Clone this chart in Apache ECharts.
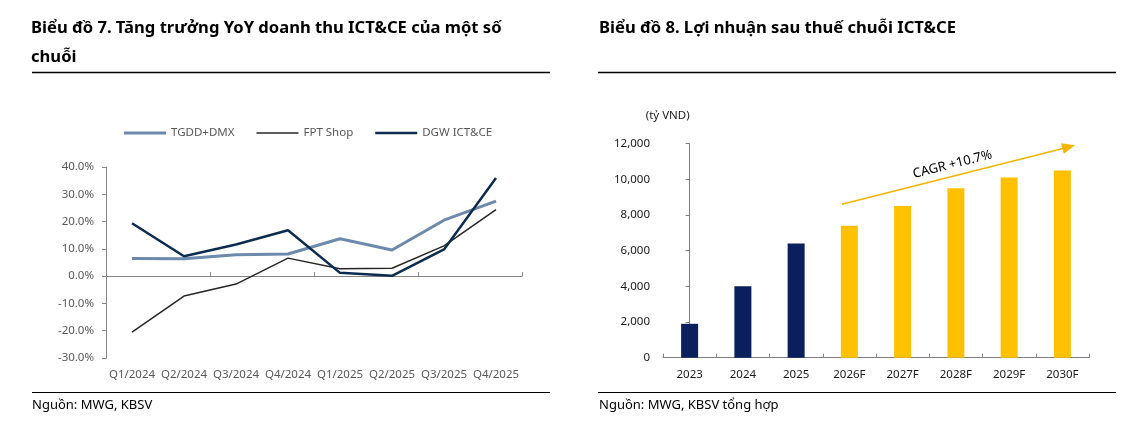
<!DOCTYPE html>
<html>
<head>
<meta charset="utf-8">
<script src="https://cdn.jsdelivr.net/npm/echarts@6/dist/echarts.min.js"></script>
<style>
html,body{margin:0;padding:0;background:#fff;}
#c{width:1142px;height:426px;}
</style>
</head>
<body>
<div id="c"></div>
<script>
// ---- Chart 7 data ----
const quarters = ['Q1/2024','Q2/2024','Q3/2024','Q4/2024','Q1/2025','Q2/2025','Q3/2025','Q4/2025'];
const tgddDmx = [6.5, 6.4, 7.8, 8.1, 13.7, 9.6, 20.5, 27.5];
const fptShop = [-20.5, -7.3, -2.9, 6.6, 2.7, 2.9, 11.1, 24.4];
const dgwIctCe = [19.4, 7.3, 11.6, 16.8, 1.2, 0.1, 9.8, 36.0];
const yoyTicks = {min: -30, max: 40, interval: 10};

// ---- Chart 8 data ----
const years = ['2023','2024','2025','2026F','2027F','2028F','2029F','2030F'];
const npat = [1900, 4000, 6400, 7400, 8500, 9500, 10100, 10500];
const npatTicks = {min: 0, max: 12000, interval: 2000};
const cagrLabel = 'CAGR +10.7%';
const cagrFrom = [2.86, 8600];
const cagrTo = [7.12, 11820];

const FONT = 'Noto Sans';
const chart = echarts.init(document.getElementById('c'), null, {renderer: 'canvas'});

const titleStyle = {fontFamily: FONT, fontSize: 16.6, fontWeight: 'bold', color: '#000', lineHeight: 29};
const footStyle = {fontFamily: FONT, fontSize: 13, fontWeight: 'normal', color: '#000', lineHeight: 18};

chart.setOption({
  animation: false,
  textStyle: {fontFamily: FONT},
  title: [
    {text: 'Biểu đồ 7. Tăng trưởng YoY doanh thu ICT&CE của một số\nchuỗi', left: 31, top: 14, padding: 0, textStyle: titleStyle},
    {text: 'Biểu đồ 8. Lợi nhuận sau thuế chuỗi ICT&CE', left: 599, top: 14, padding: 0, textStyle: titleStyle},
    {text: 'Nguồn: MWG, KBSV', left: 32, top: 396, padding: 0, textStyle: footStyle},
    {text: 'Nguồn: MWG, KBSV tổng hợp', left: 599, top: 396, padding: 0, textStyle: footStyle}
  ],
  graphic: [
    {type: 'line', shape: {x1: 32, y1: 72.5, x2: 550, y2: 72.5}, style: {stroke: '#000', lineWidth: 1.4}},
    {type: 'line', shape: {x1: 598, y1: 72.5, x2: 1116, y2: 72.5}, style: {stroke: '#000', lineWidth: 1.4}},
    {type: 'line', shape: {x1: 32, y1: 392.5, x2: 550, y2: 392.5}, style: {stroke: '#000', lineWidth: 1.1}},
    {type: 'line', shape: {x1: 598, y1: 392.5, x2: 1116, y2: 392.5}, style: {stroke: '#000', lineWidth: 1.1}}
  ],
  legend: {
    data: [
      {name: 'TGDD+DMX', icon: 'path://M0,0 L42,0 L42,3 L0,3 Z'},
      {name: 'FPT Shop', icon: 'path://M0,0 L42,0 L42,1.5 L0,1.5 Z'},
      {name: 'DGW ICT&CE', icon: 'path://M0,0 L42,0 L42,2.5 L0,2.5 Z'}
    ],
    left: 119, top: 122, itemWidth: 42, itemHeight: 10, itemGap: 22,
    textStyle: {fontFamily: FONT, fontSize: 11.5, color: '#595959'}
  },
  grid: [
    {left: 106, right: 620, top: 167, bottom: 68},
    {left: 663, right: 53, top: 143.7, bottom: 68.3}
  ],
  xAxis: [
    {type: 'category', gridIndex: 0, data: quarters, boundaryGap: true,
     axisLine: {onZero: true, lineStyle: {color: '#868686', width: 1}},
     axisTick: {show: true, inside: true, length: 4, lineStyle: {color: '#868686'}},
     axisLabel: {show: false}},
    {type: 'category', gridIndex: 0, data: quarters, position: 'bottom', boundaryGap: true,
     axisLine: {show: false, onZero: false}, axisTick: {show: false},
     axisLabel: {show: true, margin: 11, fontFamily: FONT, fontSize: 11.5, color: '#595959', interval: 0}},
    {type: 'category', gridIndex: 1, data: years, boundaryGap: true,
     axisLine: {lineStyle: {color: '#7f7f7f', width: 1}},
     axisTick: {show: true, inside: true, length: 4, lineStyle: {color: '#7f7f7f'}},
     axisLabel: {margin: 11, fontFamily: FONT, fontSize: 11.5, color: '#1a1a1a', interval: 0}},
    {type: 'value', gridIndex: 1, min: -0.5, max: years.length - 0.5, show: false}
  ],
  yAxis: [
    {type: 'value', gridIndex: 0, min: yoyTicks.min, max: yoyTicks.max, interval: yoyTicks.interval,
     axisLine: {show: true, lineStyle: {color: '#868686'}},
     axisTick: {show: true, length: 4, lineStyle: {color: '#868686'}},
     splitLine: {show: false},
     axisLabel: {margin: 12, fontFamily: FONT, fontSize: 11.5, color: '#595959', formatter: v => v.toFixed(1) + '%'}},
    {type: 'value', gridIndex: 1, min: npatTicks.min, max: npatTicks.max, interval: npatTicks.interval,
     name: '(tỷ VND)', nameLocation: 'end', nameGap: 22,
     nameTextStyle: {fontFamily: FONT, fontSize: 11.5, color: '#1a1a1a', align: 'right', padding: [0, 0, 0, 0]},
     axisLine: {show: true, lineStyle: {color: '#7f7f7f'}},
     axisTick: {show: true, length: 4, lineStyle: {color: '#7f7f7f'}},
     splitLine: {show: false},
     axisLabel: {margin: 13, fontFamily: FONT, fontSize: 11.5, color: '#1a1a1a', formatter: v => v.toLocaleString('en-US')}}
  ],
  series: [
    {name: 'TGDD+DMX', type: 'line', xAxisIndex: 0, yAxisIndex: 0, data: tgddDmx, symbol: 'none',
     lineStyle: {color: '#6D89AB', width: 3}, itemStyle: {color: '#6D89AB'}},
    {name: 'FPT Shop', type: 'line', xAxisIndex: 0, yAxisIndex: 0, data: fptShop, symbol: 'none',
     lineStyle: {color: '#262626', width: 1.5}, itemStyle: {color: '#262626'}},
    {name: 'DGW ICT&CE', type: 'line', xAxisIndex: 0, yAxisIndex: 0, data: dgwIctCe, symbol: 'none',
     lineStyle: {color: '#0C2B4E', width: 2.5}, itemStyle: {color: '#0C2B4E'}},
    {name: 'LNST', type: 'bar', xAxisIndex: 2, yAxisIndex: 1, data: npat, barWidth: 17,
     itemStyle: {color: p => (years[p.dataIndex].endsWith('F') ? '#FFC000' : '#0A1F5C')}},
    {name: 'CAGR', type: 'line', xAxisIndex: 3, yAxisIndex: 1, data: [], symbol: 'none',
     markLine: {
       silent: true, symbol: ['none', 'triangle'], symbolSize: [11, 13],
       lineStyle: {color: '#F5B400', width: 1.5, type: 'solid'},
       label: {show: true, position: 'middle', formatter: cagrLabel, fontFamily: FONT, fontSize: 13, color: '#000', distance: 5},
       data: [[{coord: cagrFrom}, {coord: cagrTo}]]
     }}
  ]
});
</script>
</body>
</html>
